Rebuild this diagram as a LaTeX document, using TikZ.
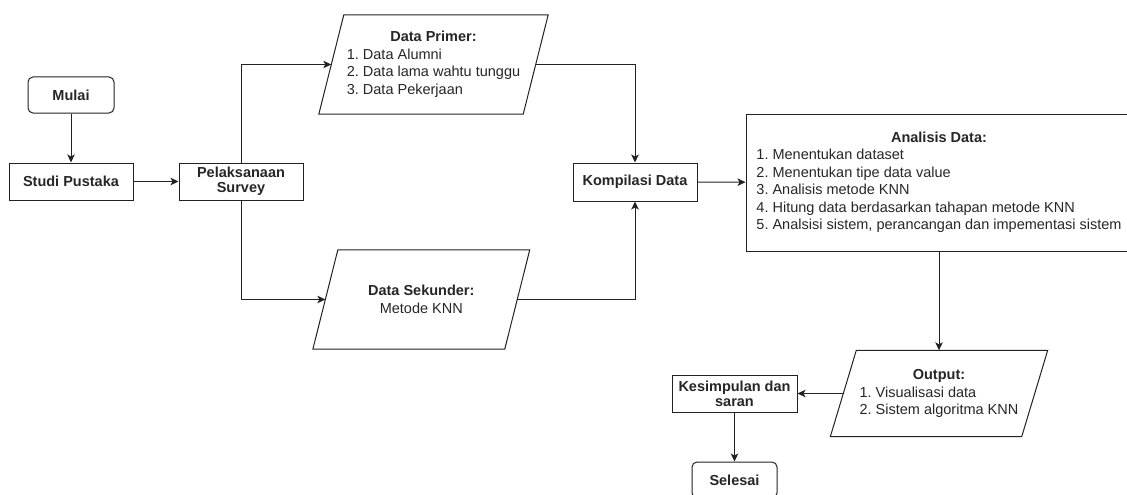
\documentclass[tikz,border=0pt]{standalone}
\usepackage{fontspec}
\setmainfont{Liberation Sans}
\frenchspacing
\usetikzlibrary{arrows.meta,calc}
\definecolor{txt}{HTML}{262626}
\definecolor{edge}{HTML}{222222}
\begin{document}
\begin{tikzpicture}[x=1pt,y=-1pt,
  every node/.style={font=\fontsize{14.5}{17.5}\selectfont, text=txt},
  proc/.style={draw=edge, line width=1pt, rectangle, inner sep=0pt, align=center},
  term/.style={proc, rounded corners=5pt},
  io/.style={rectangle, inner sep=0pt, align=center},
  iobox/.style={draw=edge, line width=1pt, line join=miter},
  conn/.style={draw=edge, line width=1pt, -{Stealth[length=8pt,width=7.5pt,inset=2pt]}}
]
\useasboundingbox (0,0) rectangle (1127,495);
\clip (0,0) rectangle (1127,495);

\node[term, minimum width=86pt, minimum height=36pt] (mulai) at (71,95) {\textbf{Mulai}};
\node[proc, minimum width=124pt, minimum height=37pt] (studi) at (71,181.5) {\textbf{Studi Pustaka}};
\node[proc, minimum width=124pt, minimum height=37pt, font=\fontsize{14.5}{15.5}\selectfont] (pel) at (241,181.5) {\textbf{Pelaksanaan}\\\textbf{Survey}};

\node[io, minimum width=204pt, minimum height=99pt] (dp) at (433.5,64.5)
  {\begin{tabular}{@{}l@{}}\multicolumn{1}{@{}c@{}}{\textbf{Data Primer:}}\\1. Data Alumni\\2. Data lama wahtu tunggu\\3. Data Pekerjaan\end{tabular}};
\node[io, minimum width=191.5pt, minimum height=99pt] (ds) at (421.3,299.5)
  {\textbf{Data Sekunder:}\\Metode KNN};

\node[proc, minimum width=124pt, minimum height=38pt] (komp) at (635,182) {\textbf{Kompilasi Data}};

\node[proc, minimum width=386pt, minimum height=137pt] (an) at (939,182.5)
  {\begin{tabular}{@{}l@{}}\multicolumn{1}{@{}c@{}}{\textbf{Analisis Data:}}\\1. Menentukan dataset\\2. Menentukan tipe data value\\3. Analisis metode KNN\\4. Hitung data berdasarkan tahapan metode KNN\\5. Analsisi sistem, perancangan dan impementasi sistem\end{tabular}};

\node[io, minimum width=191pt, minimum height=86pt] (out) at (939,393.5)
  {\begin{tabular}{@{}l@{}}\multicolumn{1}{@{}c@{}}{\textbf{Output:}}\\1. Visualisasi data\\2. Sistem algoritma KNN\end{tabular}};

\node[proc, minimum width=125pt, minimum height=37pt, font=\fontsize{14.5}{15.5}\selectfont] (kes) at (734.5,394) {\textbf{Kesimpulan dan}\\\textbf{saran}};
\node[term, minimum width=85pt, minimum height=36pt] (sel) at (734.5,480) {\textbf{Selesai}};

% parallelogram outlines around the data nodes
\foreach \n/\s in {dp/12.5, ds/12.5, out/13}
  \draw[iobox] ($(\n.south west)+(-\s,0)$) -- ($(\n.north west)+(\s,0)$)
     -- ($(\n.north east)+(\s,0)$) -- ($(\n.south east)+(-\s,0)$) -- cycle;

\draw[conn] (mulai) -- (studi);
\draw[conn] (studi) -- (pel);
\draw[conn] (pel.north) |- (dp.west);
\draw[conn] (pel.south) |- (ds.west);
\draw[conn] (dp.east) -| (komp.north);
\draw[conn] (ds.east) -| (komp.south);
\draw[conn] (komp) -- (an);
\draw[conn] (an) -- (out);
\draw[conn] (out.west) -- (out.west -| kes.east);
\draw[conn] (kes) -- (sel);
\end{tikzpicture}
\end{document}
